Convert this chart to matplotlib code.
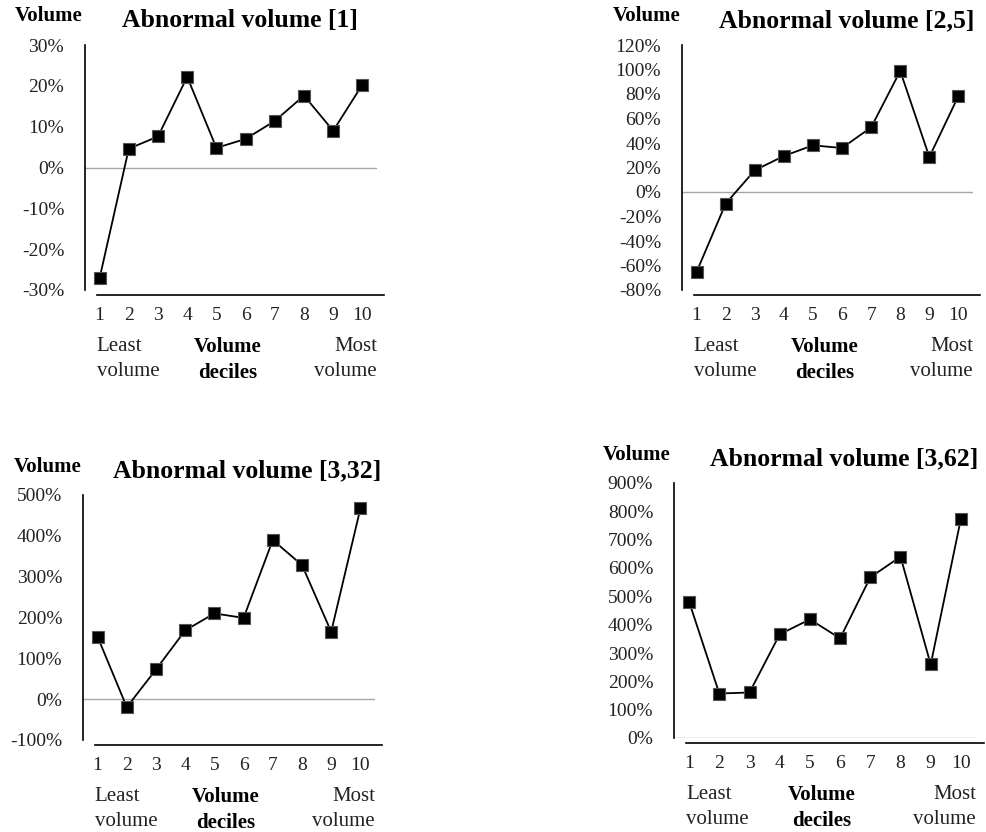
import matplotlib
matplotlib.use("Agg")
import matplotlib.pyplot as plt
from matplotlib.ticker import FuncFormatter

# Dados (em %)
deciles = list(range(1, 11))
vol_1 = [-27.1, 4.6, 7.6, 22.2, 4.8, 7.0, 11.4, 17.6, 9.0, 20.3]
vol_2_5 = [-65.3, -9.5, 17.7, 29.4, 38.1, 35.9, 52.8, 98.8, 28.6, 78.4]
vol_3_32 = [152.7, -19.6, 72.8, 168.4, 210.0, 199.0, 389.7, 328.4, 165.0, 467.0]
vol_3_62 = [481.0, 157.0, 160.6, 365.7, 418.8, 351.6, 567.0, 640.0, 259.6, 773.6]
titles = ["Abnormal volume [1]", "Abnormal volume [2,5]",
          "Abnormal volume [3,32]", "Abnormal volume [3,62]"]
y_limits = [(-30, 30, 10), (-80, 120, 20), (-100, 500, 100), (0, 900, 100)]

plt.rcParams['font.family'] = ['Liberation Serif', 'DejaVu Serif']

W, H = 986, 832
fig = plt.figure(figsize=(W / 100, H / 100), dpi=100)


def box(l, t, r, b):
    return [l / W, 1 - b / H, (r - l) / W, (b - t) / H]


# posições em pixels: eixos, título, rótulo "Volume"
layout = [
    (box(85, 45, 377, 290), (240, 21), (49, 16)),
    (box(682, 45, 973, 290), (847, 21), (647, 16)),
    (box(83, 495, 375, 740), (247, 471), (48, 467)),
    (box(674, 483, 976, 738), (844, 459), (637, 455)),
]
series = [vol_1, vol_2_5, vol_3_32, vol_3_62]

for vals, title, (lo, hi, step), (rect, tpos, vpos) in zip(series, titles, y_limits, layout):
    ax = fig.add_axes(rect)
    ax.axhline(0, color='#a6a6a6', lw=1, zorder=1)
    ax.plot(deciles, vals, color='black', lw=1.3, marker='s', markersize=9,
            markerfacecolor='black', markeredgecolor='#555555', markeredgewidth=0.8, zorder=3)
    ax.set_xlim(0.5, 10.5)
    ax.set_ylim(lo, hi)
    ax.set_yticks(range(lo, hi + 1, step))
    ax.yaxis.set_major_formatter(FuncFormatter(lambda v, p: f"{v:.0f}%"))
    ax.set_xticks(deciles)
    for s in ['top', 'right']:
        ax.spines[s].set_visible(False)
    ax.spines['left'].set_linewidth(1.2)
    ax.spines['bottom'].set_linewidth(1.2)
    ax.spines['bottom'].set_position(('outward', 3.6))
    ax.spines['bottom'].set_bounds(0.9, 10.75)
    ax.tick_params(axis='y', length=0, pad=15, labelsize=14, labelcolor='#222222')
    ax.tick_params(axis='x', length=0, pad=9, labelsize=14, labelcolor='#222222')
    ax.patch.set_alpha(0)

    tr = ('data', 'axes fraction')
    ax.annotate("Least\nvolume", xy=(0.9, 0), xycoords=tr, xytext=(0, -47),
                textcoords='offset pixels', ha='left', va='top', fontsize=15,
                color='#222222', linespacing=1.4)
    ax.annotate("Volume\ndeciles", xy=(5.4, 0), xycoords=tr, xytext=(0, -47),
                textcoords='offset pixels', ha='center', va='top', fontsize=15,
                fontweight='bold', linespacing=1.4)
    ax.annotate("Most\nvolume", xy=(10.5, 0), xycoords=tr, xytext=(0, -47),
                textcoords='offset pixels', ha='right', va='top', fontsize=15,
                color='#222222', linespacing=1.4, multialignment='right')

    fig.text(tpos[0] / W, 1 - tpos[1] / H, title, ha='center', va='center',
             fontsize=18.5, fontweight='bold')
    fig.text(vpos[0] / W, 1 - vpos[1] / H, "Volume", ha='center', va='center',
             fontsize=15, fontweight='bold')

fig.savefig("out.png", dpi=100)
plt.close(fig)
